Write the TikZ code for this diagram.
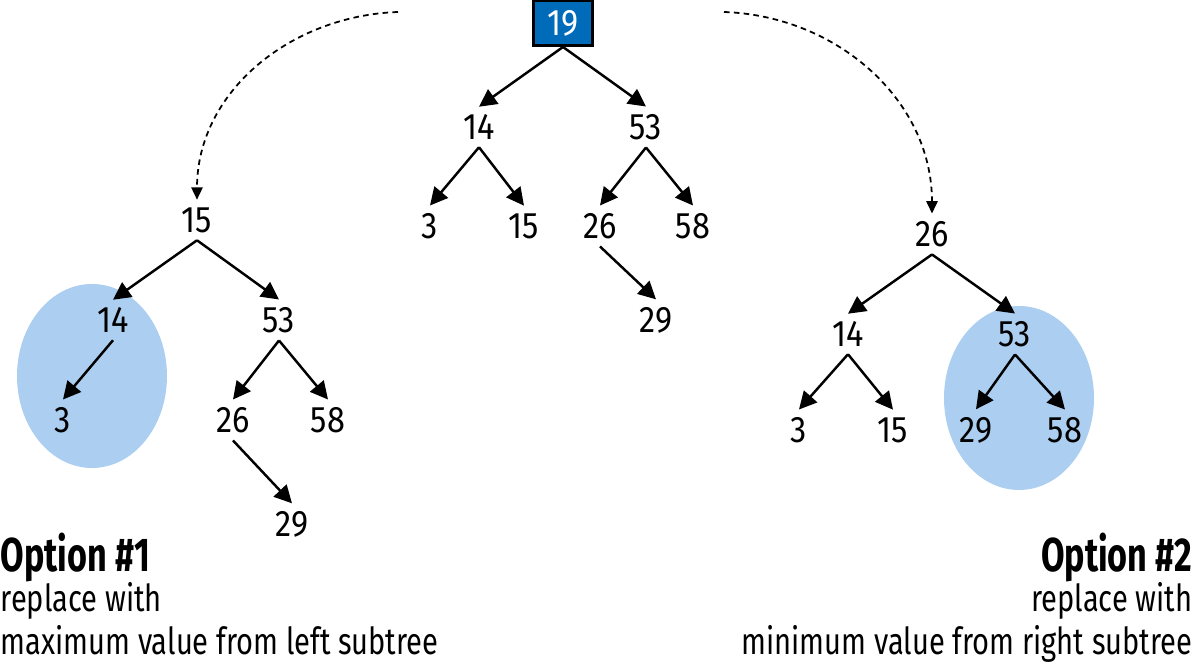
\documentclass[tikz,border=0pt]{standalone}
\usepackage{fontspec}
\setmainfont{Fira Sans}[FakeStretch=0.78]
\newfontfamily\numfont{Fira Sans}[FakeStretch=0.88]
\newfontfamily\titlefont{Fira Sans}[FakeStretch=0.72]
\usetikzlibrary{arrows.meta}

\definecolor{rootblue}{RGB}{0,107,184}
\definecolor{subblue}{RGB}{172,206,240}

\tikzset{
  num/.style={font=\numfont\fontsize{10.5}{12}\selectfont, inner sep=2pt},
  rootbox/.style={num, draw=black, line width=0.85pt, fill=rootblue, text=white,
    minimum width=0.59cm, minimum height=0.45cm},
  edge/.style={-{Triangle[length=5pt,width=5pt]}, line width=0.7pt},
  move/.style={-{Triangle[length=3.5pt,width=3.2pt]}, line width=0.5pt,
    dash pattern=on 1.6pt off 1.2pt},
  caption/.style={font=\fontsize{10.6}{12}\selectfont, inner sep=0pt},
  title/.style={font=\titlefont\bfseries\fontsize{13.5}{16}\selectfont, inner sep=0pt}
}

\begin{document}
\begin{tikzpicture}
    \useasboundingbox (0,0) rectangle (11.97,6.70);

    % Highlighted subtrees
    \fill[subblue] (0.92,2.94) ellipse [x radius=0.75, y radius=0.92];
    \fill[subblue] (10.19,2.72) ellipse [x radius=0.75, y radius=0.92];

    % Original tree
    \node[rootbox] (m19) at (5.63,6.47) {19};
    \node[num] (m14) at (4.79,5.43) {14};
    \node[num] (m53) at (6.46,5.43) {53};
    \node[num] (m3)  at (4.30,4.44) {3};
    \node[num] (m15) at (5.24,4.44) {15};
    \node[num] (m26) at (6.00,4.44) {26};
    \node[num] (m58) at (6.93,4.44) {58};
    \node[num] (m29) at (6.56,3.50) {29};

    % Option 1 tree
    \node[num] (l15) at (1.97,4.50) {15};
    \node[num] (l14) at (1.13,3.50) {14};
    \node[num] (l53) at (2.79,3.50) {53};
    \node[num] (l3)  at (0.63,2.50) {3};
    \node[num] (l26) at (2.33,2.50) {26};
    \node[num] (l58) at (3.28,2.50) {58};
    \node[num] (l29) at (2.92,1.46) {29};

    % Option 2 tree
    \node[num] (r26) at (9.32,4.36) {26};
    \node[num] (r14) at (8.48,3.36) {14};
    \node[num] (r53) at (10.15,3.36) {53};
    \node[num] (r3)  at (7.99,2.40) {3};
    \node[num] (r15) at (8.93,2.40) {15};
    \node[num] (r29) at (9.76,2.40) {29};
    \node[num] (r58) at (10.65,2.40) {58};

    % Edges
    \foreach \a/\b in {m19/m14, m19/m53, m14/m3, m14/m15, m53/m26, m53/m58, m26/m29,
                       l15/l14, l15/l53, l14/l3, l53/l26, l53/l58, l26/l29,
                       r26/r14, r26/r53, r14/r3, r14/r15, r53/r29, r53/r58}
        \draw[edge] (\a.south) -- (\b.north);

    % Dashed moves
    \coordinate (lstart) at (3.98,6.58);
    \coordinate (rstart) at (7.24,6.58);
    \draw[move] (lstart) to[out=182,in=90] (l15.north);
    \draw[move] (rstart) to[out=-2,in=90] (r26.north);

    % Captions
    \node[title, anchor=base west] (opt1) at (0,0.98) {Option \#1};
    \node[caption, anchor=base west] (opt1a) at (0,0.58) {replace with};
    \node[caption, anchor=base west] (opt1b) at (0,0.15) {maximum value from left subtree};
    \node[title, anchor=base east] (opt2) at (11.93,0.98) {Option \#2};
    \node[caption, anchor=base east] (opt2a) at (11.93,0.58) {replace with};
    \node[caption, anchor=base east] (opt2b) at (11.93,0.15) {minimum value from right subtree};
\end{tikzpicture}
\end{document}
